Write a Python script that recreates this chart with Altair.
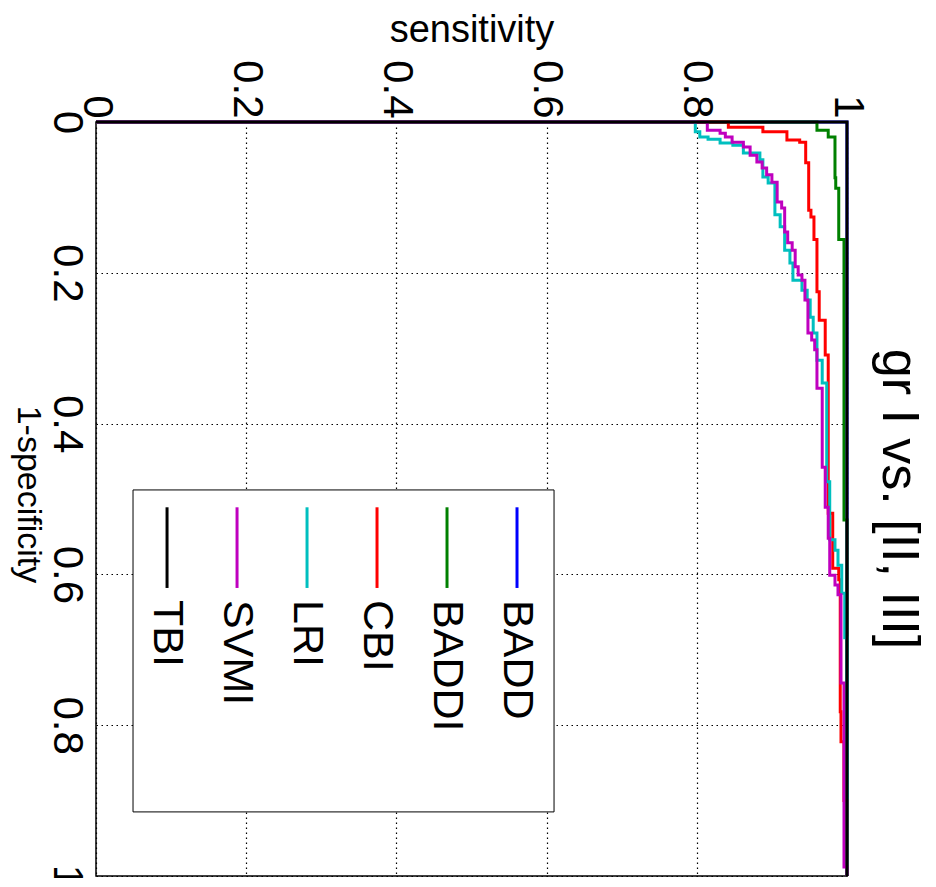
import altair as alt
import pandas as pd

FONT = "Liberation Sans"

series = ["BADD", "BADDI", "CBI", "LRI", "SVMI", "TBI"]
colors = ["#0000FF", "#008000", "#FF0000", "#00BFBF", "#BF00BF", "#000000"]

# Step points: at 1-specificity value fpr[i], the sensitivity jumps to tpr[i]
badd_fpr = [0.0, 0.0, 1.0]
badd_tpr = [0.0, 1.0, 1.0]

baddi_fpr = [0.0, 0.0, 0.011, 0.020, 0.074, 0.088, 0.156, 0.528, 1.0]
baddi_tpr = [0.0, 0.960, 0.975, 0.984, 0.985, 0.989, 0.996, 1.0, 1.0]

cbi_fpr = [0.0, 0.0, 0.007, 0.013, 0.024, 0.027, 0.054, 0.117, 0.126, 0.156,
           0.225, 0.263, 0.309, 0.519, 0.592, 0.607, 0.782, 0.822, 0.900, 1.0]
cbi_tpr = [0.0, 0.842, 0.888, 0.920, 0.937, 0.945, 0.949, 0.952, 0.956, 0.960,
           0.963, 0.971, 0.975, 0.981, 0.989, 0.991, 0.992, 0.996, 1.0, 1.0]

lri_fpr = [0.0, 0.0, 0.013, 0.020, 0.023, 0.028, 0.031, 0.041, 0.050, 0.073,
           0.081, 0.123, 0.139, 0.170, 0.187, 0.210, 0.223, 0.236, 0.259, 0.280,
           0.316, 0.346, 0.477, 0.554, 0.568, 0.588, 0.625, 0.684, 1.0]
lri_tpr = [0.0, 0.798, 0.804, 0.815, 0.831, 0.848, 0.862, 0.884, 0.888, 0.895,
           0.904, 0.911, 0.917, 0.924, 0.928, 0.940, 0.947, 0.951, 0.955, 0.960,
           0.967, 0.973, 0.977, 0.984, 0.988, 0.993, 0.997, 1.0, 1.0]

svmi_fpr = [0.0, 0.0, 0.011, 0.015, 0.020, 0.027, 0.033, 0.044, 0.053, 0.061,
            0.070, 0.080, 0.106, 0.114, 0.146, 0.160, 0.170, 0.192, 0.203, 0.210,
            0.236, 0.280, 0.289, 0.302, 0.353, 0.458, 0.511, 0.552, 0.601, 0.614,
            0.627, 0.744, 0.988, 1.0]
svmi_tpr = [0.0, 0.814, 0.831, 0.838, 0.847, 0.862, 0.871, 0.880, 0.887, 0.893,
            0.900, 0.907, 0.913, 0.917, 0.921, 0.927, 0.931, 0.935, 0.940, 0.944,
            0.948, 0.953, 0.957, 0.960, 0.967, 0.971, 0.975, 0.977, 0.984, 0.988,
            0.992, 0.996, 1.0, 1.0]

tbi_fpr = [0.0, 0.0, 1.0]
tbi_tpr = [0.0, 1.0, 1.0]

curves = [(badd_fpr, badd_tpr), (baddi_fpr, baddi_tpr), (cbi_fpr, cbi_tpr),
          (lri_fpr, lri_tpr), (svmi_fpr, svmi_tpr), (tbi_fpr, tbi_tpr)]

tick_values = [0, 0.2, 0.4, 0.6, 0.8, 1]

x_scale = alt.Scale(domain=[0, 1], nice=False, zero=False)
y_scale = alt.Scale(domain=[0, 1], nice=False, zero=False, reverse=True)

x_axis = alt.Axis(orient="top", title="sensitivity", values=tick_values,
                  format="~g", labelAngle=90, labelAlign="right",
                  labelBaseline="middle", labelPadding=4, labelFontSize=42,
                  labelOverlap=False, labelFlush=False, ticks=False, tickSize=0,
                  domain=False, grid=True, gridColor="#000000", gridDash=[1.5, 3.5],
                  gridWidth=1.2, gridOpacity=1, titleFontSize=38,
                  titleFontWeight="normal", titleBaseline="middle",
                  titleY=-92, labelColor="#000000", titleColor="#000000")
y_axis = alt.Axis(orient="left", title="1-specificity", values=tick_values,
                  format="~g", labelAngle=90, labelAlign="center",
                  labelBaseline="top", labelPadding=10, labelFontSize=42,
                  labelOverlap=False, labelFlush=False, ticks=False, tickSize=0,
                  domain=False, grid=True, gridColor="#000000", gridDash=[1.5, 3.5],
                  gridWidth=1.2, gridOpacity=1, titleFontSize=34,
                  titleFontWeight="normal", titleAngle=90, titleAlign="center",
                  titleBaseline="middle", titleX=-69, titleY=372,
                  labelColor="#000000", titleColor="#000000")

layers = []
for name, col, (fl, tl) in zip(series, colors, curves):
    df = pd.DataFrame({"fpr": fl, "sens": tl, "i": list(range(len(fl)))})
    layers.append(
        alt.Chart(df).mark_line(color=col, strokeWidth=3, interpolate="step-before")
        .encode(x=alt.X("sens:Q", scale=x_scale, axis=x_axis),
                y=alt.Y("fpr:Q", scale=y_scale, axis=y_axis),
                order=alt.Order("i:Q"))
    )

# Legend (drawn inside the plot, rotated like the rest of the figure)
leg_first = 0.5606
leg_step = 0.0932
leg_df = pd.DataFrame({
    "name": series,
    "color": colors,
    "sens": [leg_first - k * leg_step for k in range(len(series))],
})
leg_df["fpr"] = 0.511
leg_df["fpr2"] = 0.618
leg_df["tfpr"] = 0.634

box_df = pd.DataFrame({"sens": [0.0493], "sens2": [0.6099], "fpr": [0.488], "fpr2": [0.915]})

box = alt.Chart(box_df).mark_rect(fill="white", stroke="#000000", strokeWidth=1).encode(
    x=alt.X("sens:Q", scale=x_scale, axis=x_axis), x2="sens2:Q",
    y=alt.Y("fpr:Q", scale=y_scale, axis=y_axis), y2="fpr2:Q")

leg_lines = alt.Chart(leg_df).mark_rule(strokeWidth=3).encode(
    x=alt.X("sens:Q", scale=x_scale, axis=x_axis),
    y=alt.Y("fpr:Q", scale=y_scale, axis=y_axis), y2="fpr2:Q",
    color=alt.Color("color:N", scale=None))

leg_text = alt.Chart(leg_df).mark_text(angle=90, align="left", baseline="middle",
                                       fontSize=43, font=FONT, color="#000000").encode(
    x=alt.X("sens:Q", scale=x_scale, axis=x_axis),
    y=alt.Y("tfpr:Q", scale=y_scale, axis=y_axis),
    text="name:N")

chart = alt.layer(*layers, box, leg_lines, leg_text).properties(
    width=751, height=754,
    padding={"left": 88, "top": 114, "right": 80, "bottom": 2},
    autosize=alt.AutoSizeParams(type="none"),
    title=alt.TitleParams("gr I vs. [II, III]", orient="right", anchor="middle",
                          fontSize=52, fontWeight="normal", font=FONT,
                          color="#000000", offset=4),
    background="white",
).configure(font=FONT).configure_view(stroke="#000000", strokeWidth=1.5)

chart.save("out.html", embed_options={"renderer": "svg", "actions": False})
